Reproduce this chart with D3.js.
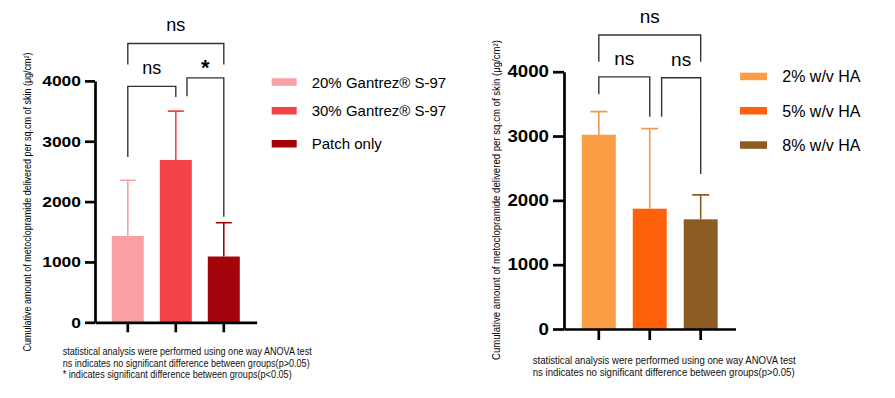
<!DOCTYPE html>
<html>
<meta charset="utf-8">
<style>
body { margin: 0; background: #fff; }
svg { display: block; font-family: "Liberation Sans", Arial, sans-serif; }
.axis path, .axis line { stroke: #000; stroke-width: 2.7; }
.axis text { font-family: "Liberation Sans", Arial, sans-serif; font-weight: bold; fill: #000; }
.bracket { fill: none; stroke: #333; stroke-width: 1.4; }
.note { fill: #111; }
</style>
<body>
<svg id="chart" width="895" height="398"></svg>

<script src="https://cdn.jsdelivr.net/npm/d3@7"></script>
<script>
// values
var yTicks = [0, 1000, 2000, 3000, 4000];

var gantrezGroups = ["20% Gantrez® S-97", "30% Gantrez® S-97", "Patch only"];
var gantrezMeans = [1430, 2690, 1090];
var gantrezErr = [925, 810, 560];
var gantrezColors = ["#f8a0a4", "#f34347", "#a1040b"];
var gantrezErrColors = ["#f4a3a6", "#f04448", "#a1040b"];
var gantrezBrackets = [
	{from: 0, to: 2, level: 4620, legs: [4270, 4270], label: "ns"},
	{from: 0, to: 1, level: 3910, legs: [2740, 3735], label: "ns"},
	{from: 1, to: 2, level: 4050, legs: [3745, 1750], label: "*"}
];
var gantrezNotes = [
	"statistical analysis were performed using one way ANOVA test",
	"ns indicates no significant difference between groups(p>0.05)",
	"* indicates significant difference between groups(p<0.05)"
];

var haGroups = ["2% w/v HA", "5% w/v HA", "8% w/v HA"];
var haMeans = [3020, 1870, 1705];
var haErr = [360, 1245, 380];
var haColors = ["#fb9d44", "#ff610a", "#8d5c24"];
var haErrColors = ["#e99a4e", "#f09a55", "#8d5c24"];
var haBrackets = [
	{from: 0, to: 2, level: 4570, legs: [4155, 4155], label: "ns"},
	{from: 0, to: 1, level: 3920, legs: [3650, 3300], label: "ns"},
	{from: 1, to: 2, level: 3905, legs: [3300, 2410], label: "ns"}
];
var haNotes = [
	"statistical analysis were performed using one way ANOVA test",
	"ns indicates no significant difference between groups(p>0.05)"
];

var yTitle = "Cumulative amount of metoclopramide delivered per sq.cm of skin (μg/cm²)";

var svg = d3.select("#chart");

function drawPanel(p) {
	var g = svg.append("g");

	var x = d3.scaleBand()
		.domain(p.groups)
		.range([p.x0, p.x1])
		.paddingInner(1 / 3)
		.paddingOuter(0.35);

	var y = d3.scaleLinear()
		.domain([0, 4000])
		.range([p.y0, p.y1]);

	var cx = function(i) { return x(p.groups[i]) + x.bandwidth() / 2; };

	// bars
	g.selectAll(".bar")
		.data(p.means)
		.enter().append("rect")
		.attr("x", function(d, i) { return x(p.groups[i]); })
		.attr("y", function(d) { return y(d); })
		.attr("width", x.bandwidth())
		.attr("height", function(d) { return y(0) - y(d); })
		.attr("fill", function(d, i) { return p.colors[i]; });

	// upper error bars
	var cap = x.bandwidth() * 0.25;
	p.means.forEach(function(m, i) {
		var c = cx(i);
		g.append("path")
			.attr("d", "M" + c + "," + y(m) + "V" + y(m + p.err[i]) +
				"M" + (c - cap) + "," + y(m + p.err[i]) + "H" + (c + cap))
			.attr("fill", "none")
			.attr("stroke", p.errColors[i])
			.attr("stroke-width", 1.6);
	});

	// axes
	g.append("g")
		.attr("class", "axis")
		.attr("transform", "translate(0," + p.y0 + ")")
		.call(d3.axisBottom(x).tickSize(p.tick).tickSizeOuter(0).tickFormat(""));

	g.append("g")
		.attr("class", "axis")
		.attr("transform", "translate(" + p.x0 + ",0)")
		.call(d3.axisLeft(y).tickValues(yTicks).tickFormat(d3.format("d"))
			.tickSize(p.tick).tickSizeOuter(0).tickPadding(4))
		.selectAll("text")
		.style("font-size", p.tickFont + "px")
		.attr("textLength", function(d) { return String(d).length * p.digitW; })
		.attr("lengthAdjust", "spacingAndGlyphs");

	// significance brackets
	p.brackets.forEach(function(b) {
		var nudge = p.brackets.some(function(o) { return o !== b && o.to === b.from; }) ? x.bandwidth() * 0.35 : 0;
		var xa = cx(b.from) + nudge, xb = cx(b.to);
		g.append("path")
			.attr("class", "bracket")
			.attr("d", "M" + xa + "," + y(b.legs[0]) + "V" + y(b.level) + "H" + xb + "V" + y(b.legs[1]));
		var star = b.label === "*";
		g.append("text")
			.attr("x", (xa + xb) / 2)
			.attr("y", y(b.level) - (star ? 3 : 12))
			.attr("text-anchor", "middle")
			.style("font-size", (star ? p.nsFont + 4 : p.nsFont) + "px")
			.style("font-weight", star ? "bold" : "normal")
			.text(b.label);
	});

	// legend
	p.groups.forEach(function(name, i) {
		g.append("rect")
			.attr("x", p.legX)
			.attr("y", p.legY[i] - 4)
			.attr("width", p.swW)
			.attr("height", 7.5)
			.attr("fill", p.colors[i]);
		g.append("text")
			.attr("x", p.legX + p.legGap)
			.attr("y", p.legY[i] + p.legFont * 0.36)
			.style("font-size", p.legFont + "px")
			.text(name);
	});

	// y title
	g.append("text")
		.attr("transform", "translate(" + p.titleX + "," + p.titleY + ") rotate(-90)")
		.attr("text-anchor", "middle")
		.attr("textLength", p.titleLen)
		.attr("lengthAdjust", "spacingAndGlyphs")
		.style("font-size", "10px")
		.text(yTitle);

	// footnotes
	p.notes.forEach(function(t, i) {
		g.append("text")
			.attr("class", "note")
			.attr("x", p.noteX)
			.attr("y", p.noteY + i * p.noteStep)
			.attr("textLength", p.noteLen[i])
			.attr("lengthAdjust", "spacingAndGlyphs")
			.style("font-size", p.noteFont + "px")
			.text(t);
	});
}

drawPanel({
	groups: gantrezGroups, means: gantrezMeans, err: gantrezErr,
	colors: gantrezColors, errColors: gantrezErrColors,
	brackets: gantrezBrackets, notes: gantrezNotes,
	x0: 95, x1: 256.6, y0: 322.3, y1: 80.9, tick: 10,
	tickFont: 15, digitW: 9.7, nsFont: 18,
	legX: 271.7, legY: [82.3, 111, 144], swW: 25, legGap: 40, legFont: 15,
	titleX: 30.5, titleY: 202, titleLen: 299,
	noteX: 62.7, noteY: 355, noteStep: 11.7, noteLen: [249, 247, 229], noteFont: 10.5
});

drawPanel({
	groups: haGroups, means: haMeans, err: haErr,
	colors: haColors, errColors: haErrColors,
	brackets: haBrackets, notes: haNotes,
	x0: 564, x1: 735.5, y0: 329, y1: 71.7, tick: 11,
	tickFont: 16.5, digitW: 10.4, nsFont: 19,
	legX: 740, legY: [76.7, 111, 145.3], swW: 27, legGap: 42.3, legFont: 16,
	titleX: 500, titleY: 200, titleLen: 320,
	noteX: 532.7, noteY: 364.3, noteStep: 12, noteLen: [263, 262], noteFont: 11
});
</script>
</body>
</html>
